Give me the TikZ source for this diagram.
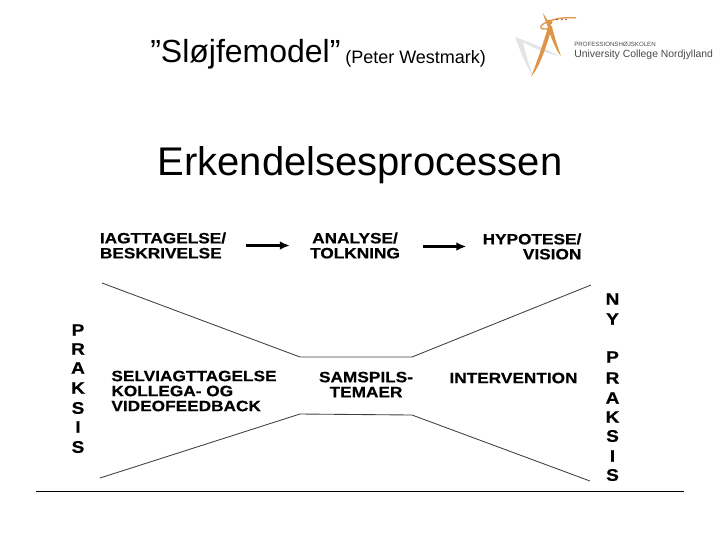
\documentclass[tikz,border=0pt]{standalone}
\usepackage{fontspec}
\setmainfont{Liberation Sans}
\newfontfamily\scanfont[FakeStretch=1.15, BoldFeatures={FakeStretch=1.15, FakeBold=0.5}]{Liberation Sans}
\definecolor{logoorange}{HTML}{DE9548}
\definecolor{logogray}{HTML}{E2E4E6}
\definecolor{logotext}{HTML}{4A4A4A}
\definecolor{logored}{HTML}{A83A3A}
\tikzset{
	scanlabel/.style={inner sep=0pt, font=\scanfont\fontsize{11.25}{11.25}\selectfont\bfseries},
	scanletter/.style={inner sep=0pt, font=\scanfont\fontsize{12.5}{12.5}\selectfont\bfseries},
	funnel/.style={black!75, line width=0.65pt},
	flow/.style={-{Latex[length=7.5pt,width=6.5pt]}, line width=1.7pt}
}
\usetikzlibrary{arrows.meta}
\begin{document}
\begin{tikzpicture}[x=0.75pt, y=-0.75pt]
	% page
	\useasboundingbox (0,0) rectangle (720,540);

	% titles
	\node[anchor=base west, inner sep=0pt, font=\fontsize{24}{24}\selectfont] (title) at (150,62) {”Sløjfemodel”};
	\node[anchor=base west, inner sep=0pt, font=\fontsize{13.5}{13.5}\selectfont] (author) at (345,63) {(Peter Westmark)};
	\node[anchor=base, inner sep=0pt, font=\fontsize{30}{30}\selectfont] (heading) at (360,175) {Erkendelsesprocessen};

	% logo
	\fill[logogray] (515,37) .. controls (526,41) and (545,48) .. (559,56) .. controls (545,53) and (533,48) .. (523,42) .. controls (526,56) and (530,68) .. (533,76) .. controls (526,66) and (520,50) .. (515,37);
	\fill[logoorange] (543,13) .. controls (546,18) and (549,22) .. (552,27) .. controls (554,35) and (557,45) .. (561,56) .. controls (557,52) and (553,42) .. (550,34) .. controls (545,50) and (540,66) .. (531,77) .. controls (537,62) and (543,44) .. (548,27) .. controls (546,22) and (544,18) .. (543,13);
	\draw[logoorange, line width=1pt] (552,28) .. controls (540,31) and (537,27) .. (545,23) .. controls (555,18) and (566,17) .. (576,18);
	\fill[logoorange] (550,22) circle (2.5);
	\foreach \xdot in {557,562,566}
		\fill[logored] (\xdot,19.5) circle (0.8);
	\node[anchor=west, inner sep=0pt, text=logotext, font=\fontsize{4.6}{4.6}\selectfont] (logotop) at (574,44) {PROFESSIONSHØJSKOLEN};
	\node[anchor=west, inner sep=0pt, text=logotext, font=\fontsize{7.8}{7.8}\selectfont] (logoname) at (574,54.5) {University College Nordjylland};

	% labels
	\node[scanlabel, align=left] (observe) at (163,245.5) {IAGTTAGELSE/\\BESKRIVELSE};
	\node[scanlabel, align=center] (analyse) at (355,245.5) {ANALYSE/\\TOLKNING};
	\node[scanlabel, align=right] (vision) at (532,246.5) {HYPOTESE/\\VISION};
	\node[scanlabel, align=left] (video) at (194,391) {SELVIAGTTAGELSE\\KOLLEGA- OG\\VIDEOFEEDBACK};
	\node[scanlabel, align=center] (themes) at (366,384.5) {SAMSPILS-\\TEMAER};
	\node[scanlabel] (intervention) at (513.5,378) {INTERVENTION};

	% arrows
	\draw[flow, shorten <=14.5pt, shorten >=15pt] (observe) -- (analyse);
	\draw[flow, shorten <=17.5pt, shorten >=12pt] (analyse.east |- vision) -- (vision);

	% funnel
	\coordinate (ul) at (102,283);
	\coordinate (um) at (300,357);
	\coordinate (un) at (412,357);
	\coordinate (ur) at (591,285);
	\coordinate (ll) at (100,478);
	\coordinate (lm) at (300,414);
	\coordinate (ln) at (412,415);
	\coordinate (lr) at (590,481);
	\draw[funnel] (ul) -- (um) -- (un) -- (ur);
	\draw[funnel] (ll) -- (lm) -- (ln) -- (lr);

	% side words
	\foreach \letter/\ypos [count=\i] in {P/330,R/349,A/368,K/388,S/408,I/427,S/447}
		\node[scanletter] (left\i) at (78,\ypos) {\letter};
	\foreach \letter/\ypos [count=\i] in {N/299,Y/319,P/357,R/378,A/398,K/417,S/436,I/456,S/475}
		\node[scanletter] (right\i) at (612.5,\ypos) {\letter};

	% rule
	\coordinate (rulea) at (36,491);
	\coordinate (ruleb) at (684,491);
	\draw[black, line width=0.6pt] (rulea) -- (ruleb);
\end{tikzpicture}
\end{document}
